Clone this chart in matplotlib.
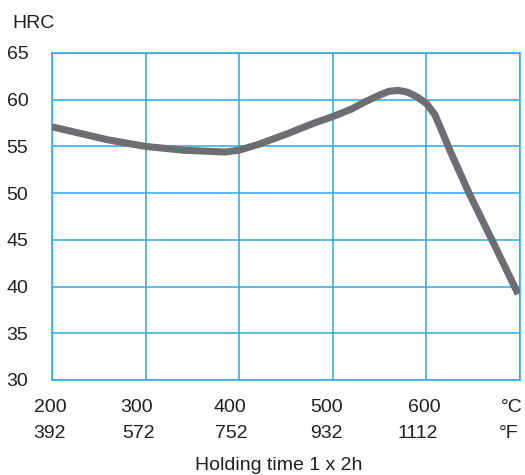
import matplotlib.pyplot as plt
import matplotlib.transforms as mtransforms

# tempering curve
temp_c = [200, 230, 260, 300, 340, 385, 400, 420, 450, 480, 500, 520, 535, 550, 560, 570,
          580, 590, 600, 609, 618, 625, 646, 671, 698]
hrc = [57.1, 56.4, 55.7, 55.0, 54.6, 54.4, 54.6, 55.2, 56.3, 57.5, 58.2, 59.0, 59.8, 60.5,
       60.9, 61.0, 60.8, 60.3, 59.6, 58.4, 56.3, 54.6, 49.9, 44.8, 39.2]

x_ticks = [200, 300, 400, 500, 600, 700]
x_labels_c = ["200", "300", "400", "500", "600", "°C"]
x_labels_f = ["392", "572", "752", "932", "1112", "°F"]
y_ticks = [30, 35, 40, 45, 50, 55, 60, 65]

grid_blue = "#29a9e1"
text_col = "#231f20"
fs = 14

plt.rcParams["font.family"] = ["Liberation Sans", "DejaVu Sans"]

fig = plt.figure(figsize=(5.25, 4.75), dpi=100)
ax = fig.add_axes([52 / 525, 1 - 380 / 475, 468 / 525, 327 / 475])

ax.plot(temp_c, hrc, color="#6d6e71", lw=5.1, solid_joinstyle="round", solid_capstyle="butt", zorder=3)

ax.set_xlim(200, 700)
ax.set_ylim(30, 65)
ax.set_xticks(x_ticks)
ax.set_xticklabels([])
ax.set_yticks(y_ticks)
ax.grid(True, color=grid_blue, lw=1.1)
ax.tick_params(length=0, labelsize=fs, colors=text_col)
ax.tick_params(axis="y", pad=17)
for s in ax.spines.values():
    s.set_color(grid_blue)
    s.set_linewidth(1.1)

# two rows of x labels (°C above, °F below), nudged left like the original
shift_c = [-2, -9, -9, -6, -2, -8]
shift_f = [-3, -7, -8, -6, -9, -11]
base = mtransforms.blended_transform_factory(ax.transData, fig.transFigure)
for xv, lc, lf, dc, df in zip(x_ticks, x_labels_c, x_labels_f, shift_c, shift_f):
    tc = base + mtransforms.ScaledTranslation(dc / 100, 0, fig.dpi_scale_trans)
    tf = base + mtransforms.ScaledTranslation(df / 100, 0, fig.dpi_scale_trans)
    ax.text(xv, 1 - 407 / 475, lc, transform=tc, ha="center", va="center", fontsize=fs, color=text_col)
    ax.text(xv, 1 - 434 / 475, lf, transform=tf, ha="center", va="center", fontsize=fs, color=text_col)

fig.text(12 / 525, 1 - 23 / 475, "HRC", fontsize=fs, color=text_col, va="center", ha="left")
fig.text(279 / 525, 1 - 466 / 475, "Holding time 1 x 2h", fontsize=fs, color=text_col, va="center", ha="center")

fig.savefig("out.png", dpi=100)
